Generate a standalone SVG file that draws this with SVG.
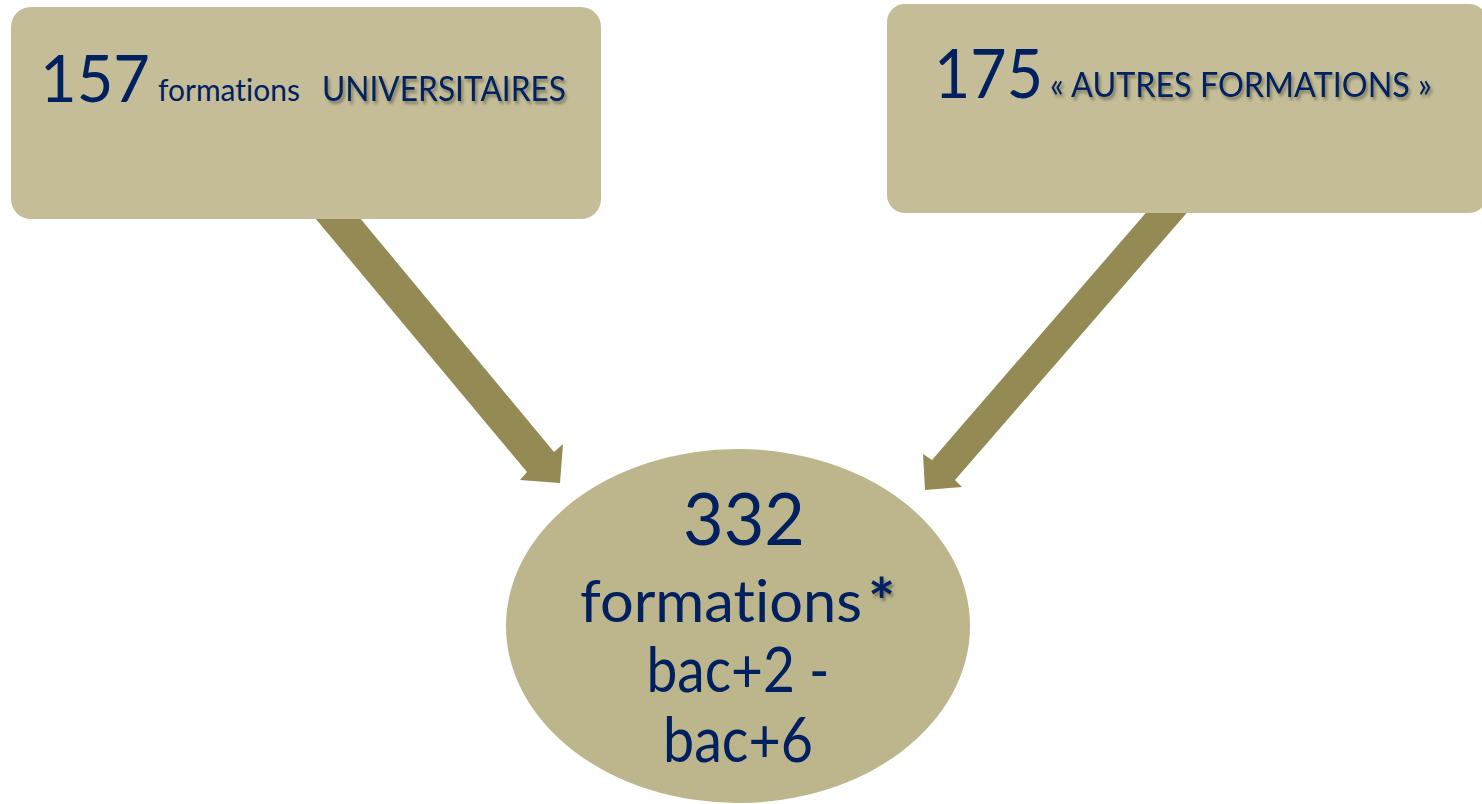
<svg xmlns="http://www.w3.org/2000/svg" width="1482" height="804" viewBox="0 0 1482 804">
<style>
.box{fill:#C4BD97;}
.ell{fill:#BDB58B;}
.arrow{fill:#948A54;}
.t{font-family:Lato,"Open Sans","DejaVu Sans",sans-serif;fill:#002060;font-variant-ligatures:none;}
.sh{filter:url(#shadow);}
</style>
<defs>
<filter id="shadow" x="-10%" y="-30%" width="120%" height="160%">
<feDropShadow dx="2" dy="3" stdDeviation="1.6" flood-color="#000" flood-opacity="0.35"/>
</filter>
</defs>
<rect width="1482" height="804" fill="#fff"/>
<g id="connectors">
<polygon class="arrow" points="300,200 527,472 520,480 560,483 563,444 554,452 345,200"/>
<polygon class="arrow" points="1157,200 932,460 923,454 925,490 962,487 955,480 1198,200"/>
</g>
<g id="node-universitaires">
<rect class="box" x="11" y="7" width="590" height="212" rx="20"/>
<text class="t" x="40" y="102" font-size="66" textLength="110" lengthAdjust="spacingAndGlyphs">157</text>
<text class="t" x="158" y="101" font-size="30" textLength="142" lengthAdjust="spacingAndGlyphs">formations</text>
<text class="t sh" x="322" y="101" font-size="35" textLength="244" lengthAdjust="spacingAndGlyphs">UNIVERSITAIRES</text>
</g>
<g id="node-autres">
<rect class="box" x="887" y="4" width="600" height="209" rx="18"/>
<text class="t" x="934" y="98" font-size="68" textLength="109" lengthAdjust="spacingAndGlyphs">175</text>
<text class="t sh" x="1050" y="97" font-size="35" textLength="382" lengthAdjust="spacingAndGlyphs">« AUTRES FORMATIONS »</text>
</g>
<g id="node-total">
<ellipse class="ell" cx="738" cy="626" rx="232" ry="177"/>
<text class="t" x="744" y="545" font-size="72" text-anchor="middle" textLength="122" lengthAdjust="spacingAndGlyphs">332</text>
<text class="t" x="580" y="622" font-size="59"><tspan textLength="282" lengthAdjust="spacingAndGlyphs">formations</tspan><tspan class="sh" x="868" y="625" font-size="64" font-weight="bold">*</tspan></text>
<text class="t" x="738" y="692" font-size="62" text-anchor="middle" textLength="183" lengthAdjust="spacingAndGlyphs">bac+2 -</text>
<text class="t" x="738" y="762" font-size="62" text-anchor="middle" textLength="150" lengthAdjust="spacingAndGlyphs">bac+6</text>
</g>
</svg>
